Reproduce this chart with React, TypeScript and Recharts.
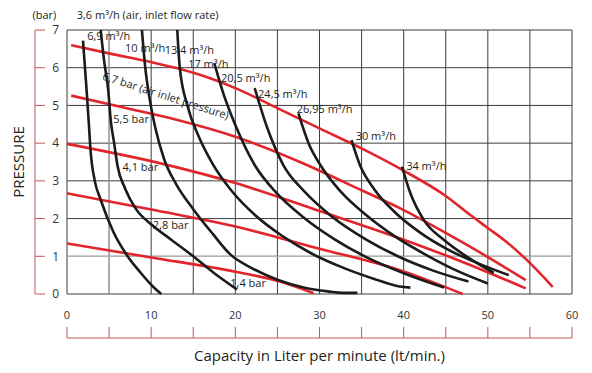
import { LineChart, Line, XAxis, YAxis, CartesianGrid, ReferenceLine, ReferenceDot } from "recharts";

type Pt = { x: number; y: number };

// air inlet pressure curves (red)
const bar67: Pt[] = [
  { x: 0.5, y: 6.6 }, { x: 5, y: 6.38 }, { x: 10, y: 6.15 }, { x: 13, y: 5.99 }, { x: 17, y: 5.72 },
  { x: 20, y: 5.46 }, { x: 25, y: 4.93 }, { x: 30, y: 4.39 }, { x: 35, y: 3.86 }, { x: 40, y: 3.27 },
  { x: 45, y: 2.6 }, { x: 48, y: 2.08 }, { x: 50, y: 1.75 }, { x: 52, y: 1.42 }, { x: 54.5, y: 0.93 }, { x: 57.7, y: 0.19 },
];
const bar55: Pt[] = [
  { x: 0.5, y: 5.26 }, { x: 7, y: 4.93 }, { x: 13, y: 4.62 }, { x: 20, y: 4.17 }, { x: 28.5, y: 3.42 },
  { x: 35, y: 2.75 }, { x: 39.6, y: 2.27 }, { x: 45, y: 1.62 }, { x: 50, y: 0.98 }, { x: 54.5, y: 0.37 },
];
const bar41: Pt[] = [
  { x: 0, y: 3.98 }, { x: 11, y: 3.47 }, { x: 20, y: 2.94 }, { x: 30, y: 2.2 }, { x: 40, y: 1.44 },
  { x: 47, y: 0.85 }, { x: 54.5, y: 0.15 },
];
const bar28: Pt[] = [
  { x: 0, y: 2.67 }, { x: 10, y: 2.24 }, { x: 20, y: 1.79 }, { x: 30, y: 1.2 }, { x: 40, y: 0.6 }, { x: 47, y: 0 },
];
const bar14: Pt[] = [
  { x: 0, y: 1.34 }, { x: 10, y: 0.97 }, { x: 20, y: 0.59 }, { x: 25.3, y: 0.33 }, { x: 29.3, y: 0.02 },
];

// air flow curves (black)
const flow36: Pt[] = [
  { x: 1.9, y: 6.72 }, { x: 2.3, y: 5.5 }, { x: 2.6, y: 4.5 }, { x: 2.8, y: 3.8 }, { x: 3.3, y: 3.0 },
  { x: 4.0, y: 2.5 }, { x: 5.5, y: 1.65 }, { x: 7.2, y: 1.0 }, { x: 8.8, y: 0.55 }, { x: 10.2, y: 0.2 }, { x: 11.2, y: 0 },
];
const flow69: Pt[] = [
  { x: 4.0, y: 7.0 }, { x: 4.4, y: 6.2 }, { x: 4.9, y: 5.4 }, { x: 5.2, y: 4.6 }, { x: 5.6, y: 4.0 },
  { x: 6.0, y: 3.4 }, { x: 6.9, y: 2.8 }, { x: 8.2, y: 2.25 }, { x: 10.0, y: 1.85 }, { x: 12.5, y: 1.42 },
  { x: 15, y: 1.0 }, { x: 17.5, y: 0.55 }, { x: 20.2, y: 0.12 },
];
const flow10: Pt[] = [
  { x: 8.9, y: 7.0 }, { x: 9.3, y: 6.0 }, { x: 9.8, y: 5.2 }, { x: 10.5, y: 4.4 }, { x: 11.5, y: 3.6 },
  { x: 13.0, y: 2.9 }, { x: 15.0, y: 2.25 }, { x: 17.3, y: 1.6 }, { x: 19.4, y: 1.05 }, { x: 22, y: 0.68 },
  { x: 25, y: 0.38 }, { x: 28, y: 0.18 }, { x: 31, y: 0.07 }, { x: 33, y: 0.03 }, { x: 34.5, y: 0.03 },
];
const flow134: Pt[] = [
  { x: 13.1, y: 7.0 }, { x: 13.4, y: 6.0 }, { x: 14.3, y: 5.0 }, { x: 15.6, y: 4.2 }, { x: 17.3, y: 3.45 },
  { x: 19.5, y: 2.75 }, { x: 22.3, y: 2.1 }, { x: 25.5, y: 1.55 }, { x: 29, y: 1.08 }, { x: 33, y: 0.68 },
  { x: 36.5, y: 0.4 }, { x: 39.5, y: 0.2 }, { x: 40.8, y: 0.17 },
];
const flow17: Pt[] = [
  { x: 17.5, y: 6.12 }, { x: 18.6, y: 5.3 }, { x: 20.0, y: 4.48 }, { x: 22.3, y: 3.42 }, { x: 24.8, y: 2.7 },
  { x: 28, y: 2.05 }, { x: 31.8, y: 1.45 }, { x: 35.8, y: 0.95 }, { x: 40, y: 0.55 }, { x: 44.8, y: 0.17 },
];
const flow245: Pt[] = [
  { x: 22.3, y: 5.46 }, { x: 23.8, y: 4.4 }, { x: 25.7, y: 3.42 }, { x: 28.2, y: 2.72 }, { x: 31.5, y: 2.05 },
  { x: 35.5, y: 1.45 }, { x: 39.5, y: 0.98 }, { x: 43.5, y: 0.62 }, { x: 47.7, y: 0.33 },
];
const flow2695: Pt[] = [
  { x: 27.5, y: 4.79 }, { x: 28.7, y: 4.0 }, { x: 30.1, y: 3.42 }, { x: 32.5, y: 2.72 }, { x: 35.5, y: 2.1 },
  { x: 39, y: 1.52 }, { x: 42.8, y: 1.02 }, { x: 46.5, y: 0.6 }, { x: 50.0, y: 0.28 },
];
const flow30: Pt[] = [
  { x: 33.8, y: 4.08 }, { x: 34.8, y: 3.42 }, { x: 36.5, y: 2.78 }, { x: 38.8, y: 2.2 }, { x: 42, y: 1.62 },
  { x: 45.5, y: 1.15 }, { x: 49, y: 0.8 }, { x: 52.5, y: 0.5 },
];
const flow34: Pt[] = [
  { x: 39.8, y: 3.38 }, { x: 40.8, y: 2.67 }, { x: 42.4, y: 1.96 }, { x: 44.8, y: 1.43 }, { x: 47.5, y: 0.99 },
  { x: 50.7, y: 0.56 },
];

const redCurves = [bar67, bar55, bar41, bar28, bar14];
const blackCurves = [flow36, flow69, flow10, flow134, flow17, flow245, flow2695, flow30, flow34];

const xTicks = [0, 5, 10, 15, 20, 25, 30, 35, 40, 45, 50, 55, 60];
const yTicks = [0, 1, 2, 3, 4, 5, 6, 7];

// text notes placed in data units (left edge, middle)
const notes = [
  { text: "(bar)", x: -4.1, y: 7.4 },
  { text: "3,6 m³/h  (air, inlet flow rate)", x: 1.15, y: 7.4 },
  { text: "6,9 m³/h", x: 2.4, y: 6.85 },
  { text: "10 m³/h", x: 6.9, y: 6.53 },
  { text: "13,4 m³/h", x: 11.6, y: 6.47 },
  { text: "17 m³/h", x: 14.4, y: 6.1 },
  { text: "20,5 m³/h", x: 18.3, y: 5.75 },
  { text: "24,5 m³/h", x: 22.7, y: 5.32 },
  { text: "26,95 m³/h", x: 27.3, y: 4.93 },
  { text: "30 m³/h", x: 34.3, y: 4.19 },
  { text: "34 m³/h", x: 40.3, y: 3.4 },
  { text: "5,5 bar", x: 5.5, y: 4.66 },
  { text: "4,1 bar", x: 6.6, y: 3.37 },
  { text: "2,8 bar", x: 10.2, y: 1.83 },
  { text: "1,4 bar", x: 19.4, y: 0.3 },
];
const slantNote = { text: "6,7 bar (air inlet pressure)", x: 4.3, y: 5.8, angle: 17.6 };

const red = "#e1252b";
const ink = "#1b1b1b";
const axisRed = "#c9545c";
const font = "'Open Sans', sans-serif";
const plotTop = 30;

// bottom tick: number every 10, red ruler tick every 5 below it
const XTick = (props: any) => {
  const { x, y, payload } = props;
  return (
    <g>
      {payload.value % 10 === 0 && (
        <text x={x} y={y} dy="0.71em" textAnchor="middle" fontSize={11} fill="#333" fontFamily={font}>
          {payload.value}
        </text>
      )}
      <line x1={x} y1={y + 16} x2={x} y2={y + 27} stroke={axisRed} strokeWidth={1} />
    </g>
  );
};

// left tick: number plus red ruler tick; the ruler itself hangs off the 0 tick
const YTick = (props: any) => {
  const { x, y, payload } = props;
  const rx = x - 24;
  return (
    <g>
      <text x={x} y={y} dy="0.355em" textAnchor="end" fontSize={12} fill="#333" fontFamily={font}>
        {payload.value}
      </text>
      <line x1={rx} y1={y} x2={rx + 10} y2={y} stroke={axisRed} strokeWidth={1} />
      {payload.value === 0 && <line x1={rx} y1={y} x2={rx} y2={plotTop} stroke={axisRed} strokeWidth={1} />}
    </g>
  );
};

const noteLabel = (text: string, angle = 0, size = 11) => (props: any) => {
  const { x, y } = props.viewBox;
  return (
    <text
      x={x}
      y={y}
      dominantBaseline="central"
      fontSize={size}
      fontFamily={font}
      fill="#231f20"
      transform={angle ? `rotate(${angle} ${x} ${y})` : undefined}
    >
      {text}
    </text>
  );
};

export default function App() {
  return (
    <div style={{ position: "absolute", left: 0, top: 0, fontFamily: font }}>
      <LineChart width={592} height={373} margin={{ top: plotTop, right: 20, bottom: 0, left: 0 }}>
        {/* "a" axes sit next to the plot, "z" axes outside them */}
        <XAxis
          xAxisId="a"
          type="number"
          dataKey="x"
          domain={[0, 60]}
          ticks={xTicks}
          interval={0}
          height={44}
          axisLine={false}
          tickLine={false}
          tickSize={0}
          tickMargin={17}
          tick={XTick}
        />
        <XAxis
          xAxisId="z"
          type="number"
          domain={[0, 60]}
          ticks={xTicks}
          height={35}
          axisLine={{ stroke: axisRed }}
          tickLine={false}
          tick={false}
          label={{
            value: "Capacity in Liter per minute (lt/min.)",
            position: "insideBottom",
            offset: 12,
            fontSize: 15,
            fill: "#231f20",
            fontFamily: font,
          }}
        />
        <YAxis
          yAxisId="a"
          type="number"
          domain={[0, 7]}
          ticks={yTicks}
          interval={0}
          width={32}
          axisLine={false}
          tickLine={false}
          tickSize={0}
          tickMargin={8}
          tick={YTick}
        />
        <YAxis
          yAxisId="z"
          type="number"
          domain={[0, 7]}
          ticks={yTicks}
          width={35}
          axisLine={false}
          tickLine={false}
          tick={false}
          label={{
            content: (p: any) => {
              const cx = 18;
              const cy = p.viewBox.y + p.viewBox.height / 2;
              return (
                <text x={cx} y={cy} transform={`rotate(-90 ${cx} ${cy})`} textAnchor="middle" dominantBaseline="central" fontSize={15} fontFamily={font} fill="#231f20">
                  PRESSURE
                </text>
              );
            },
          }}
        />
        <CartesianGrid xAxisId="a" yAxisId="a" stroke="#3d3d3d" strokeWidth={1} />
        <ReferenceLine xAxisId="a" yAxisId="a" x={5} stroke="#b3b3b3" strokeWidth={1.2} />
        <ReferenceLine xAxisId="a" yAxisId="a" y={1} stroke="#b3b3b3" strokeWidth={1.2} />

        {redCurves.map((d, i) => (
          <Line
            key={"r" + i}
            xAxisId="a"
            yAxisId="a"
            data={d}
            dataKey="y"
            type="monotone"
            stroke={red}
            strokeWidth={2.6}
            dot={false}
            activeDot={false}
            isAnimationActive={false}
          />
        ))}
        {blackCurves.map((d, i) => (
          <Line
            key={"b" + i}
            xAxisId="a"
            yAxisId="a"
            data={d}
            dataKey="y"
            type="monotone"
            stroke={ink}
            strokeWidth={2.6}
            dot={false}
            activeDot={false}
            isAnimationActive={false}
          />
        ))}

        {notes.map((n) => (
          <ReferenceDot
            key={n.text}
            xAxisId="a"
            yAxisId="a"
            x={n.x}
            y={n.y}
            r={0}
            fill="none"
            stroke="none"
            ifOverflow="visible"
            label={{ content: noteLabel(n.text) }}
          />
        ))}
        <ReferenceDot
          xAxisId="a"
          yAxisId="a"
          x={slantNote.x}
          y={slantNote.y}
          r={0}
          fill="none"
          stroke="none"
          ifOverflow="visible"
          label={{ content: noteLabel(slantNote.text, slantNote.angle, 11) }}
        />
      </LineChart>
    </div>
  );
}
